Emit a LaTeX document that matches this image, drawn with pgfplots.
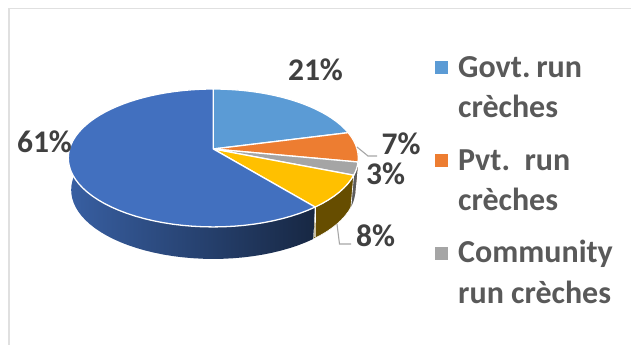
\documentclass[border=0pt]{standalone}
\usepackage{pgfplots}
\usepackage{pgfplotstable}
\usepackage{fontspec}
\setmainfont{Carlito}
\pgfplotsset{compat=1.18}

\definecolor{govt}{HTML}{5B9BD5}
\definecolor{pvt}{HTML}{ED7D31}
\definecolor{comm}{HTML}{A5A5A5}
\definecolor{other}{HTML}{FFC000}
\definecolor{rest}{HTML}{4270BF}
\definecolor{pctcol}{HTML}{404040}
\definecolor{legcol}{HTML}{595959}
\definecolor{framecol}{HTML}{E0E0E0}
\definecolor{leader}{HTML}{A6A6A6}

% Pie shares in percent, in drawing order, clockwise from twelve o'clock
\pgfplotstableread{
share
21
7
3
8
61
}\pieshares

% Perspective projection of the disc onto the page, in page units
\newcommand\project[1]{%
  \pgfmathsetmacro\th{90-3.6*(#1)}%
  \pgfmathsetmacro\den{1+0.13*sin(\th)}%
  \pgfmathsetmacro\px{213.3+143.8*cos(\th)/\den}%
  \pgfmathsetmacro\py{149-67.8*sin(\th)/\den}%
}
\newcommand\steps[2]{\pgfmathtruncatemacro\nsteps{max(ceil(abs((#2)-(#1))),4)}}

% Collects the rim from share position #1 to #2 into \pts
\newcommand\addrim[2]{%
  \steps{#1}{#2}%
  \foreach \k in {0,...,\nsteps}{%
    \pgfmathsetmacro\p{(#1)+((#2)-(#1))*\k/\nsteps}%
    \project{\p}%
    \xdef\pts{\pts (\px,\py)}%
  }%
}
% The same rim on the lower edge of the disc
\newcommand\addlowrim[2]{%
  \steps{#1}{#2}%
  \foreach \k in {0,...,\nsteps}{%
    \pgfmathsetmacro\p{(#1)+((#2)-(#1))*\k/\nsteps}%
    \project{\p}%
    \pgfmathsetmacro\qx{213.3+0.98*(\px-213.3)}%
    \pgfmathsetmacro\qy{\py+32}%
    \xdef\pts{\pts (\qx,\qy)}%
  }%
}
% Upper face of a slice
\newcommand\slicetop[3]{%
  \xdef\pts{(213.3,149)}%
  \addrim{#1}{#2}%
  \edef\temp{\noexpand\addplot[fill=#3,draw=white,line width=1.3bp,line join=round] coordinates {\pts} --cycle;}%
  \temp
}
% Outer wall of a slice
\newcommand\slicewall[3]{%
  \xdef\pts{}%
  \addrim{#1}{#2}%
  \addlowrim{#2}{#1}%
  \edef\temp{\noexpand\addplot[#3] coordinates {\pts} --cycle;}%
  \temp
}
\newcommand\share[2]{\pgfplotstablegetelem{#1}{share}\of\pieshares\let#2\pgfplotsretval}

\begin{document}
\begin{tikzpicture}
\begin{axis}[
  scale only axis, width=631bp, height=345bp,
  xmin=0, xmax=631, ymin=0, ymax=345, y dir=reverse,
  hide axis, clip=false,
]
% Outer frame of the chart area
\addplot[framecol, line width=1.8bp] coordinates {(631,8.5) (9,8.5) (9,345)};

% Cumulative positions of the slice boundaries
\share{0}\sa \share{1}\sb \share{2}\sc \share{3}\sd \share{4}\se
\pgfmathsetmacro\ca{\sa}
\pgfmathsetmacro\cb{\ca+\sb}
\pgfmathsetmacro\cc{\cb+\sc}
\pgfmathsetmacro\cd{\cc+\sd}
\pgfmathsetmacro\ce{\cd+\se}

% Walls
\slicewall{\ca}{\cb}{fill=pvt!50!black,draw=none}
\slicewall{\cb}{\cc}{fill=comm!55!black,draw=none}
\slicewall{\cc}{\cd}{fill=other!40!black,draw=white,line width=0.6bp}
\slicewall{\cd}{80}{left color=rest!85!black,right color=rest!35!black,draw=none}
\addplot[white,line width=1.2bp] coordinates {(315.3,207) (315,237)};

% Upper faces
\slicetop{0}{\ca}{govt}
\slicetop{\ca}{\cb}{pvt}
\slicetop{\cb}{\cc}{comm}
\slicetop{\cc}{\cd}{other}
\slicetop{\cd}{\ce}{rest}

% Leader lines
\addplot[leader,line width=1.1bp] coordinates {(357,147) (368,156) (377,156)};
\addplot[leader,line width=1.1bp] coordinates {(337,224) (339.5,244) (351,244)};

% Percentage labels
\begin{scope}[every node/.style={font=\fontsize{31.5bp}{32bp}\selectfont\bfseries,text=pctcol,inner sep=0pt}]
\node at (axis cs:315.5,70) {21\%};
\node at (axis cs:401,144) {7\%};
\node at (axis cs:385.5,174) {3\%};
\node at (axis cs:375.5,236) {8\%};
\node at (axis cs:44.5,142) {61\%};
\end{scope}

% Legend
\addplot[only marks,mark=square*,mark size=6bp,mark options={draw=govt,fill=govt,line width=0pt}] coordinates {(441,67)};
\addplot[only marks,mark=square*,mark size=6bp,mark options={draw=pvt,fill=pvt,line width=0pt}] coordinates {(441,160)};
\addplot[only marks,mark=square*,mark size=6bp,mark options={draw=comm,fill=comm,line width=0pt}] coordinates {(441,253)};
\begin{scope}[every node/.style={font=\fontsize{32bp}{33bp}\selectfont\bfseries,text=legcol,inner sep=0pt,anchor=west}]
\node at (axis cs:458,67) {Govt.\hspace{-4bp} run};
\node at (axis cs:458,106) {crèches};
\node at (axis cs:458,160) {Pvt.\ \ run};
\node at (axis cs:458,199) {crèches};
\node at (axis cs:458,254) {Community};
\node at (axis cs:458,292) {run crèches};
\end{scope}
\end{axis}
% Page size follows the axis box exactly
\pgfresetboundingbox
\path[use as bounding box] (0,0) rectangle (631bp,345bp);
\end{tikzpicture}
\end{document}
